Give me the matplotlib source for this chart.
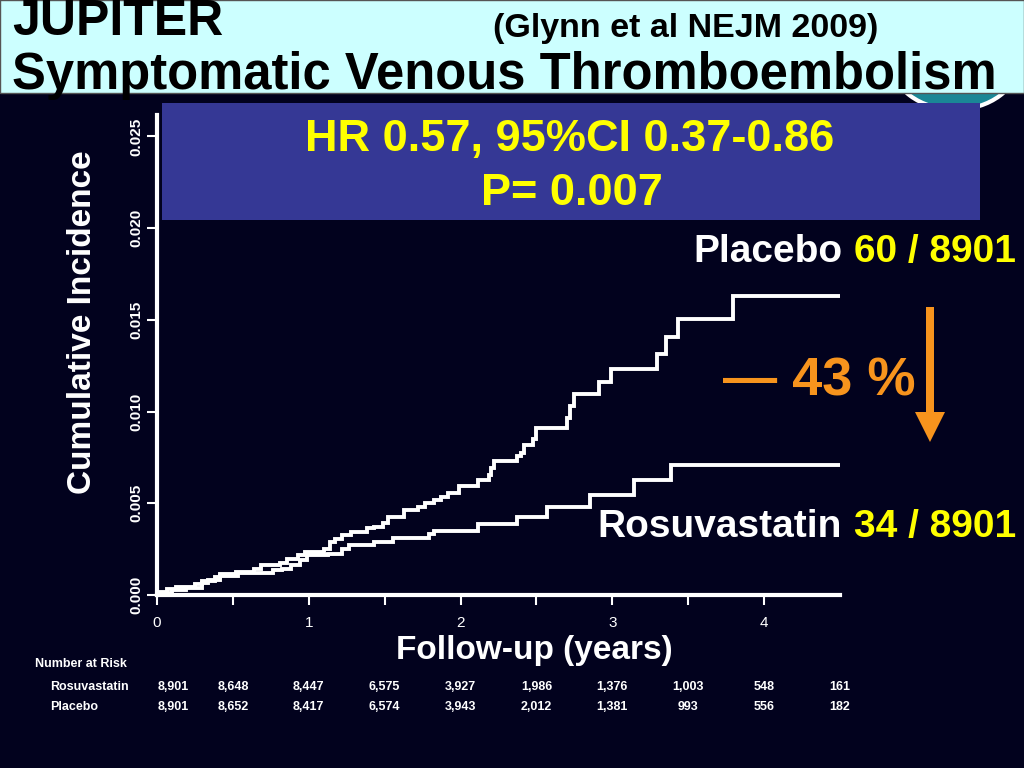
import matplotlib
matplotlib.use("Agg")
import matplotlib.pyplot as plt
import matplotlib.transforms as mtransforms
from matplotlib.patches import Rectangle, Circle, FancyArrow

plt.rcParams['font.family'] = ['Liberation Sans', 'DejaVu Sans']

# cumulative incidence step data (years, incidence)
placebo_t = [0, 0.021, 0.067, 0.127, 0.248, 0.294, 0.385, 0.415, 0.521, 0.642,
             0.688, 0.809, 0.855, 0.930, 0.976, 1.097, 1.142, 1.173, 1.218, 1.279,
             1.385, 1.430, 1.491, 1.521, 1.627, 1.718, 1.764, 1.824, 1.870, 1.915,
             1.991, 2.112, 2.188, 2.203, 2.218, 2.370, 2.400, 2.415, 2.476, 2.497,
             2.703, 2.718, 2.748, 2.915, 2.991, 3.294, 3.355, 3.430, 3.794, 4.5]
placebo_v = [0, 0.00015, 0.00033, 0.00046, 0.0006, 0.00079, 0.00097, 0.00115, 0.00128, 0.00143,
             0.00161, 0.00174, 0.00198, 0.00216, 0.00234, 0.00253, 0.00289, 0.00308, 0.00326, 0.00344,
             0.00363, 0.00372, 0.0039, 0.00427, 0.00463, 0.00482, 0.005, 0.00518, 0.00533, 0.00555,
             0.00592, 0.00628, 0.00656, 0.00692, 0.00729, 0.00756, 0.00775, 0.0082, 0.00848, 0.00912,
             0.00967, 0.01031, 0.01095, 0.01159, 0.01233, 0.01315, 0.01407, 0.01507, 0.01632, 0.01632]

rosu_t = [0, 0.006, 0.097, 0.188, 0.294, 0.339, 0.415, 0.536, 0.764, 0.824,
          0.885, 0.945, 0.991, 1.127, 1.218, 1.264, 1.430, 1.552, 1.794, 1.824,
          2.112, 2.370, 2.567, 2.855, 3.142, 3.385, 4.5]
rosu_v = [0, 0.00009, 0.00028, 0.00037, 0.00064, 0.00082, 0.00101, 0.00119, 0.00134, 0.00143,
          0.00161, 0.00189, 0.00216, 0.00225, 0.00253, 0.00271, 0.00289, 0.00311, 0.00335, 0.0035,
          0.00385, 0.00427, 0.00482, 0.00546, 0.00628, 0.00711, 0.00711]

# number at risk table
risk_times = [0, 0.5, 1.0, 1.5, 2.0, 2.5, 3.0, 3.5, 4.0, 4.5]
risk_rosu = ['8,901', '8,648', '8,447', '6,575', '3,927', '1,986', '1,376', '1,003', '548', '161']
risk_placebo = ['8,901', '8,652', '8,417', '6,574', '3,943', '2,012', '1,381', '993', '556', '182']

bg = '#02021e'
W, H = 1024, 768

def fx(px):
    return px / W

def fy(py):
    return 1 - py / H

fig = plt.figure(figsize=(10.24, 7.68), dpi=100, facecolor=bg)

# logo peeking out below the title band
fig.patches.append(Circle((fx(955), fy(62)), 0.062, transform=fig.transFigure,
                          facecolor='#1a8796', edgecolor='white', lw=3, zorder=0))

# title band
fig.patches.append(Rectangle((0, fy(93)), 1, 93 / H, transform=fig.transFigure,
                             facecolor='#ccffff', edgecolor='#555555', lw=1, zorder=1))
fig.text(fx(12), fy(35), 'JUPITER', fontsize=36, fontweight='bold', color='black',
         ha='left', va='baseline', zorder=3)
fig.text(fx(686), fy(37), '(Glynn et al NEJM 2009)', fontsize=24.5, fontweight='bold',
         color='black', ha='center', va='baseline', zorder=3)
fig.text(fx(12), fy(89), 'Symptomatic Venous Thromboembolism', fontsize=36.5,
         fontweight='bold', color='black', ha='left', va='baseline', zorder=3)

ax = fig.add_axes([fx(157), fy(595), (840 - 157) / W, (595 - 115) / H])
ax.set_facecolor(bg)
ax.step(placebo_t, placebo_v, where='post', color='white', lw=2.8, solid_joinstyle='miter')
ax.step(rosu_t, rosu_v, where='post', color='white', lw=2.8, solid_joinstyle='miter')
ax.set_xlim(0, 4.5)
ax.set_ylim(0, 0.02617)

for s in ['top', 'right']:
    ax.spines[s].set_visible(False)
for s in ['left', 'bottom']:
    ax.spines[s].set_color('white')
    ax.spines[s].set_linewidth(3)

ax.set_xticks([0, 1, 2, 3, 4])
ax.set_xticks([0.5, 1.5, 2.5, 3.5], minor=True)
ax.set_yticks([0, 0.005, 0.01, 0.015, 0.02, 0.025])
ax.set_yticklabels(['0.000', '0.005', '0.010', '0.015', '0.020', '0.025'],
                   rotation=90, va='center', fontweight='bold')
ax.tick_params(axis='both', which='both', colors='white', width=1.5, length=7,
               labelsize=11)
ax.tick_params(axis='x', which='both', pad=8)
ax.tick_params(axis='y', pad=3)

fig.text(fx(83), fy(322), 'Cumulative Incidence', fontsize=24, fontweight='bold',
         color='white', rotation=90, ha='center', va='center')
fig.text(fx(534), fy(659), 'Follow-up (years)', fontsize=24, fontweight='bold',
         color='white', ha='center', va='baseline')

# HR box
fig.patches.append(Rectangle((fx(162), fy(220)), (980 - 162) / W, (220 - 103) / H,
                             transform=fig.transFigure, facecolor='#353895',
                             edgecolor='none', zorder=2))
fig.text(fx(570), fy(151), 'HR 0.57, 95%CI 0.37-0.86', fontsize=32.5, fontweight='bold',
         color='#ffff00', ha='center', va='baseline', zorder=3)
fig.text(fx(572), fy(205), 'P= 0.007', fontsize=32.5, fontweight='bold',
         color='#ffff00', ha='center', va='baseline', zorder=3)

# group labels
fig.text(fx(1016), fy(262), '60 / 8901', fontsize=28, fontweight='bold', color='#ffff00',
         ha='right', va='baseline')
fig.text(fx(842), fy(262), 'Placebo', fontsize=28, fontweight='bold', color='white',
         ha='right', va='baseline')
fig.text(fx(1016), fy(537), '34 / 8901', fontsize=28, fontweight='bold', color='#ffff00',
         ha='right', va='baseline')
fig.text(fx(842), fy(537), 'Rosuvastatin', fontsize=28, fontweight='bold', color='white',
         ha='right', va='baseline')

orange = '#f7941d'
fig.text(fx(819), fy(395), '\u2014 43 %', fontsize=39, fontweight='bold', color=orange,
         ha='center', va='baseline')
fig.patches.append(FancyArrow(fx(930), fy(307), 0, -(412 - 307) / H, width=6 / H,
                              head_width=30 / W, head_length=30 / H,
                              length_includes_head=False, transform=fig.transFigure,
                              color=orange, lw=0))

# number at risk
narrow = ['Liberation Sans Narrow', 'Liberation Sans', 'DejaVu Sans']
fig.text(fx(35), fy(667), 'Number at Risk', fontsize=9, fontweight='bold', color='white',
         family=narrow, va='baseline')
fig.text(fx(50), fy(690), 'Rosuvastatin', fontsize=9, fontweight='bold', color='white',
         family=narrow, va='baseline')
fig.text(fx(50), fy(710), 'Placebo', fontsize=9, fontweight='bold', color='white',
         family=narrow, va='baseline')
for row, (counts, py) in enumerate([(risk_rosu, 690), (risk_placebo, 710)]):
    off = mtransforms.ScaledTranslation(0, -(py - 595) / 100, fig.dpi_scale_trans)
    for i, t in enumerate(risk_times):
        xt = t + (0.11 if i == 0 else 0)
        ax.text(xt, 0, counts[i], transform=ax.get_xaxis_transform() + off, fontsize=9,
                fontweight='bold', color='white', family=narrow, ha='center',
                va='baseline')

fig.savefig('out.png', dpi=100, facecolor=bg)
